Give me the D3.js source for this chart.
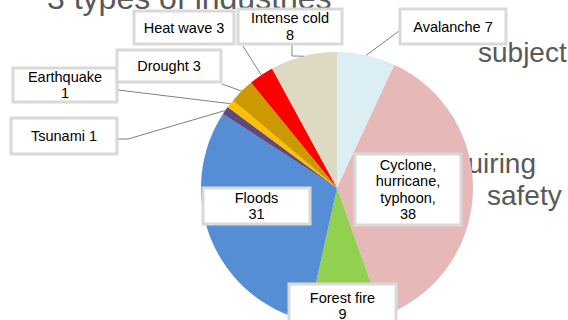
<!DOCTYPE html>
<html lang="en">
<head>
    <meta charset="UTF-8">
    <title>Disaster types</title>
    <script src="https://cdnjs.cloudflare.com/ajax/libs/d3/7.8.5/d3.min.js"></script>
    <style>
        body {
            margin: 0;
            background: #fff;
            font-family: "Liberation Sans", Arial, sans-serif;
        }
        svg { display: block; }
        .slide-text { fill: #595959; }
        .label-box { fill: #fff; stroke: #d9d9d9; stroke-width: 3; }
        .label-text { font-size: 14.5px; fill: #000; }
        .leader { fill: none; stroke: #808080; stroke-width: 1; }
    </style>
</head>
<body>
    <div id="chart"></div>

    <script>
        // Data (clockwise from 12 o'clock)
        const categories = ["Avalanche", "Cyclone, hurricane, typhoon,", "Forest fire", "Floods",
                            "Tsunami", "Earthquake", "Drought", "Heat wave", "Intense cold"];
        const values = [7, 38, 9, 31, 1, 1, 3, 3, 8];
        const colors = ["#dbeef4", "#e6b9b8", "#92d050", "#558ed5",
                        "#604a7b", "#ffc000", "#cc9900", "#ff0000", "#ddd9c3"];

        // label text lines for each slice
        const labelLines = [
            ["Avalanche 7"],
            ["Cyclone,", "hurricane,", "typhoon,", "38"],
            ["Forest fire", "9"],
            ["Floods", "31"],
            ["Tsunami 1"],
            ["Earthquake", "1"],
            ["Drought 3"],
            ["Heat wave 3"],
            ["Intense cold", "8"]
        ];

        // label box layout: [x, y, w, h], leader anchor + optional elbow
        const labelLayout = [
            { box: [400, 9, 106, 35], anchor: [399, 31] },
            { box: [355, 154, 106, 71] },
            { box: [289, 284, 107, 44] },
            { box: [203, 188, 107, 36] },
            { box: [11, 118, 106, 36], anchor: [118, 139], elbow: [128, 139] },
            { box: [13, 68, 104, 34], anchor: [118, 90] },
            { box: [117, 50, 104, 32], anchor: [222, 84] },
            { box: [134, 11, 100, 33], anchor: [243, 46] },
            { box: [238, 9, 104, 35], anchor: [292, 45], elbow: [292, 56] }
        ];

        const width = 568, height = 320;
        const cx = 337, cy = 188, radius = 136;

        const svg = d3.select("#chart").append("svg")
            .attr("width", width)
            .attr("height", height);

        // slide text behind the chart
        const slide = svg.append("g").attr("class", "slide-text");
        slide.append("text").attr("x", 47).attr("y", 9).attr("font-size", 32).text("3 types of industries");
        slide.append("text").attr("x", 478).attr("y", 62).attr("font-size", 28).text("subject");
        slide.append("text").attr("x", 536).attr("y", 173).attr("font-size", 28)
            .attr("text-anchor", "end").text("requiring");
        slide.append("text").attr("x", 487).attr("y", 205).attr("font-size", 28).text("safety");

        const pie = d3.pie().sort(null).value(d => d);
        const arcs = pie(values);
        const arc = d3.arc().innerRadius(0).outerRadius(radius);

        const g = svg.append("g").attr("transform", `translate(${cx},${cy})`);
        g.selectAll("path.slice")
            .data(arcs)
            .enter()
            .append("path")
            .attr("class", "slice")
            .attr("d", arc)
            .attr("fill", (d, i) => colors[i]);

        // point on the rim at the middle of a slice
        function rimPoint(d) {
            const a = (d.startAngle + d.endAngle) / 2;
            return [cx + radius * Math.sin(a), cy - radius * Math.cos(a)];
        }

        // leader lines
        const line = d3.line();
        arcs.forEach((d, i) => {
            const lay = labelLayout[i];
            if (!lay.anchor) return;
            const pts = [lay.anchor];
            if (lay.elbow) pts.push(lay.elbow);
            pts.push(rimPoint(d));
            svg.append("path").attr("class", "leader").attr("d", line(pts));
        });

        // label boxes
        const lineH = 16.5;
        const labels = svg.selectAll("g.label")
            .data(arcs)
            .enter()
            .append("g")
            .attr("class", "label");

        labels.append("rect")
            .attr("class", "label-box")
            .attr("x", (d, i) => labelLayout[i].box[0])
            .attr("y", (d, i) => labelLayout[i].box[1])
            .attr("width", (d, i) => labelLayout[i].box[2])
            .attr("height", (d, i) => labelLayout[i].box[3]);

        labels.each(function(d, i) {
            const [x, y, w, h] = labelLayout[i].box;
            const lines = labelLines[i];
            const top = y + h / 2 - (lines.length - 1) * lineH / 2;
            const t = d3.select(this).append("text")
                .attr("class", "label-text")
                .attr("text-anchor", "middle");
            lines.forEach((s, k) => {
                t.append("tspan")
                    .attr("x", x + w / 2)
                    .attr("y", top + k * lineH)
                    .attr("dy", "0.35em")
                    .text(s);
            });
        });
    </script>
</body>
</html>
